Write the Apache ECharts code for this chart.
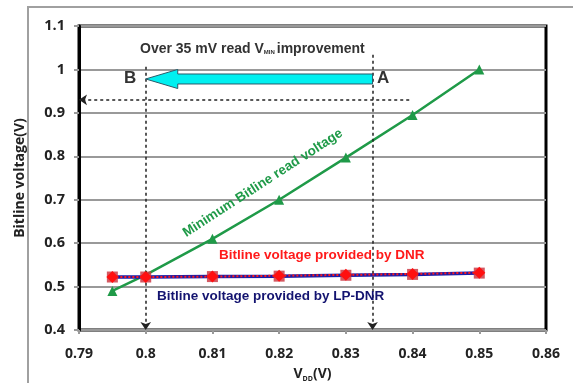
<!DOCTYPE html>
<html>
<head>
<meta charset="utf-8">
<script src="https://cdn.jsdelivr.net/npm/echarts@6/dist/echarts.min.js"></script>
<style>
  html, body { margin: 0; padding: 0; background: #fff; }
  #chart { width: 573px; height: 383px; }
</style>
</head>
<body>
<div id="chart"></div>
<script>
// Supply voltage points (V)
const vddMin = [0.795, 0.80, 0.81, 0.82, 0.83, 0.84, 0.85];
const vddBit = [0.795, 0.80, 0.81, 0.82, 0.83, 0.84, 0.85];
// Minimum bitline voltage needed for a correct read (V)
const minReadVoltage = [0.49, 0.527, 0.61, 0.70, 0.797, 0.895, 1.0];
// Bitline voltage delivered by the regulators (V)
const dnrVoltage   = [0.522, 0.522, 0.523, 0.525, 0.527, 0.529, 0.532];
const lpdnrVoltage = [0.522, 0.522, 0.523, 0.524, 0.526, 0.528, 0.531];
// Axis ticks
const xTicks = [0.79, 0.80, 0.81, 0.82, 0.83, 0.84, 0.85, 0.86];
const yTicks = [0.4, 0.5, 0.6, 0.7, 0.8, 0.9, 1.0, 1.1];
// Read VMIN operating points A (old) and B (new), and the guide level
const vminA = 0.834;
const vminB = 0.80;
const guideLevel = 0.93;

const pair = (xs, ys) => xs.map((x, i) => [x, ys[i]]);
const FONT = 'Liberation Sans';
const AXIS_FONT = 'Open Sans';

const chart = echarts.init(document.getElementById('chart'));

chart.setOption({
  animation: false,
  backgroundColor: '#fff',
  grid: {
    left: 79, right: 27, top: 26, bottom: 53,
    outerBoundsMode: 'none', containLabel: false,
    show: true, borderColor: '#000', borderWidth: 3, backgroundColor: 'transparent'
  },
  xAxis: {
    type: 'value',
    min: xTicks[0], max: xTicks[xTicks.length - 1], interval: 0.01,
    name: '{v|V}{s|DD}{v|(V)}',
    nameLocation: 'middle', nameGap: 37,
    nameTextStyle: { rich: {
      v: { fontFamily: AXIS_FONT, fontSize: 14, fontWeight: 'bold', color: '#222' },
      s: { fontFamily: AXIS_FONT, fontSize: 7, fontWeight: 'bold', color: '#222', padding: [8, 0, 0, 0] }
    } },
    axisLine: { show: false },
    axisTick: { show: true, inside: false, length: 4, lineStyle: { color: '#999', width: 2 } },
    splitLine: { show: false },
    axisLabel: {
      fontFamily: AXIS_FONT, fontSize: 14, fontWeight: 'bold', color: '#222', margin: 17,
      formatter: v => String(+v.toFixed(2))
    }
  },
  yAxis: {
    type: 'value',
    min: yTicks[0], max: yTicks[yTicks.length - 1], interval: 0.1,
    name: 'Bitline voltage(V)',
    nameLocation: 'middle', nameGap: 52,
    nameTextStyle: { fontFamily: AXIS_FONT, fontSize: 14, fontWeight: 'bold', color: '#222' },
    axisLine: { show: true, lineStyle: { color: '#000', width: 3 } },
    axisTick: { show: true, inside: false, length: 5, lineStyle: { color: '#999', width: 2 } },
    splitLine: { show: true, lineStyle: { color: '#999', width: 2 } },
    axisLabel: {
      fontFamily: AXIS_FONT, fontSize: 14.5, fontWeight: 'bold', color: '#222', margin: 14,
      formatter: v => String(+v.toFixed(1))
    }
  },
  series: [
    {
      name: 'Minimum Bitline read voltage',
      type: 'line',
      data: pair(vddMin, minReadVoltage),
      symbol: 'triangle', symbolSize: 10,
      itemStyle: { color: '#1f9a48' },
      lineStyle: { color: '#1f9a48', width: 2.5 },
      z: 3
    },
    {
      name: 'Bitline voltage provided by LP-DNR',
      type: 'line',
      data: pair(vddBit, lpdnrVoltage),
      symbol: 'rect', symbolSize: 11,
      itemStyle: { color: 'rgba(205,60,70,0.85)' },
      lineStyle: { color: '#1c1ca8', width: 3.5 },
      z: 4
    },
    {
      name: 'Bitline voltage provided by DNR',
      type: 'line',
      data: pair(vddBit, dnrVoltage),
      symbol: 'diamond', symbolSize: 12,
      itemStyle: { color: '#ff1010' },
      lineStyle: { color: '#ff1a1a', width: 2, type: [2, 2] },
      z: 5,
      markLine: {
        silent: true,
        symbol: ['none', 'arrow'], symbolSize: 8,
        label: { show: false },
        lineStyle: { color: '#222', width: 1.5, type: [3, 3] },
        data: [
          [{ coord: [vminB, 1.006], symbol: 'none' }, { coord: [vminB, 0.4] }],
          [{ coord: [vminA, 1.034], symbol: 'none' }, { coord: [vminA, 0.4] }],
          [{ coord: [0.8395, guideLevel], symbol: 'none' }, { coord: [0.79, guideLevel] }]
        ]
      }
    },
    {
      // Wide cyan arrow from A to B
      type: 'custom',
      coordinateSystem: 'cartesian2d',
      data: [[vminA, vminB]],
      z: 6,
      renderItem: (params, api) => {
        const xa = api.value(0), xb = api.value(1);
        const yMid = 0.978, bodyHalf = 0.0115, headHalf = 0.022, headLen = 0.0048;
        const pts = [
          [xb, yMid],
          [xb + headLen, yMid + headHalf],
          [xb + headLen, yMid + bodyHalf],
          [xa, yMid + bodyHalf],
          [xa, yMid - bodyHalf],
          [xb + headLen, yMid - bodyHalf],
          [xb + headLen, yMid - headHalf]
        ].map(p => api.coord(p));
        return {
          type: 'polygon',
          shape: { points: pts },
          style: { fill: '#00f0f0', stroke: '#2a5a6a', lineWidth: 1 }
        };
      }
    }
  ],
  graphic: [
    { type: 'rect', silent: true, z: -1,
      shape: { x: 28, y: 7, width: 700, height: 500 },
      style: { fill: 'none', stroke: '#a0a0a0', lineWidth: 2 } },
    { type: 'text', left: 140, top: 42, z: 10,
      style: { rich: {
        a: { fontFamily: FONT, fontSize: 14, fontWeight: 'bold', fill: '#333' },
        s: { fontFamily: FONT, fontSize: 6, fontWeight: 'bold', fill: '#333', padding: [7, 2, 0, 0] }
      }, text: '{a|Over 35 mV read V}{s|MIN}{a|improvement}' } },
    { type: 'text', left: 124, top: 70, z: 10,
      style: { text: 'B', fontFamily: FONT, fontSize: 17, fontWeight: 'bold', fill: '#333' } },
    { type: 'text', left: 377, top: 70, z: 10,
      style: { text: 'A', fontFamily: FONT, fontSize: 17, fontWeight: 'bold', fill: '#333' } },
    { type: 'text', x: 188, y: 240, rotation: 0.575, z: 10,
      style: { text: 'Minimum Bitline read voltage', fontFamily: FONT, fontSize: 13.5, fontWeight: 'bold',
               fill: '#1f9a48', textVerticalAlign: 'bottom' } },
    { type: 'text', left: 219, top: 248, z: 10,
      style: { text: 'Bitline voltage provided by DNR', fontFamily: FONT, fontSize: 13.5, fontWeight: 'bold', fill: '#ff1a1a' } },
    { type: 'text', left: 157, top: 289, z: 10,
      style: { text: 'Bitline voltage provided by LP-DNR', fontFamily: FONT, fontSize: 13.5, fontWeight: 'bold', fill: '#141470' } }
  ]
});
</script>
</body>
</html>
